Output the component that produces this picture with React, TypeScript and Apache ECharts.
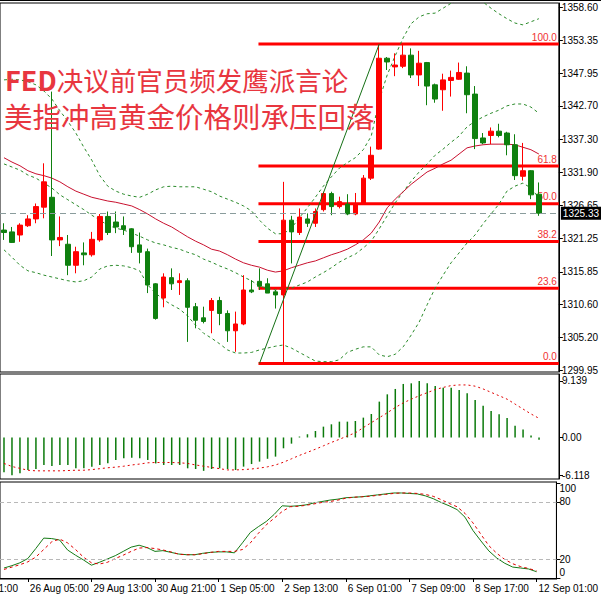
import React, { useEffect, useRef } from 'react';
import * as echarts from 'echarts';

const titleLead = 'FED';
const titleLines = ['决议前官员频发鹰派言论', '美指冲高黄金价格则承压回落'];
const tickLabels = ['26 Aug 05:00', '29 Aug 13:00', '30 Aug 21:00', '1 Sep 05:00', '2 Sep 13:00', '6 Sep 01:00', '7 Sep 09:00', '8 Sep 17:00', '12 Sep 01:00'];
const leadLabel = '24 Aug 21:00';
const slotCount = 70;
const firstTickIdx = 3;
const tickStep = 8;

// [open, close, low, high]
const candles = [
  [1322.6, 1322.2, 1321.0, 1323.7], [1322.3, 1320.6, 1320.5, 1323.1], [1321.8, 1323.4, 1320.7, 1323.7], [1323.3, 1324.4, 1323.1, 1325.0],
  [1324.4, 1326.4, 1323.7, 1326.9], [1326.3, 1330.4, 1324.5, 1333.4], [1327.9, 1321.0, 1318.4, 1345.0], [1321.0, 1321.4, 1320.0, 1324.8],
  [1320.3, 1316.9, 1315.3, 1321.8], [1316.9, 1319.1, 1315.6, 1319.9], [1318.9, 1318.6, 1316.9, 1320.6], [1318.6, 1321.1, 1318.3, 1322.3],
  [1321.0, 1324.8, 1320.7, 1325.2], [1324.8, 1322.2, 1321.8, 1325.6], [1323.9, 1323.1, 1322.1, 1325.6], [1323.3, 1322.7, 1321.8, 1324.8],
  [1322.8, 1319.9, 1318.9, 1322.9], [1320.2, 1319.0, 1317.2, 1322.2], [1319.1, 1313.7, 1312.4, 1319.6], [1313.9, 1308.3, 1308.1, 1314.0],
  [1311.6, 1315.0, 1310.1, 1315.6], [1314.9, 1313.9, 1312.9, 1316.4], [1314.1, 1314.4, 1312.1, 1315.6], [1314.4, 1310.1, 1304.5, 1314.8],
  [1310.2, 1308.0, 1306.7, 1310.8], [1308.4, 1307.8, 1307.5, 1310.2], [1309.6, 1311.2, 1305.9, 1311.6], [1311.2, 1309.1, 1307.2, 1311.8],
  [1309.1, 1306.3, 1304.5, 1309.6], [1306.3, 1307.4, 1302.9, 1309.4], [1307.4, 1312.9, 1307.2, 1315.3], [1312.9, 1312.6, 1312.4, 1314.5],
  [1314.3, 1313.5, 1312.9, 1316.4], [1313.9, 1312.4, 1312.4, 1314.8], [1312.6, 1312.1, 1309.9, 1312.9], [1312.1, 1324.2, 1301.0, 1330.4],
  [1324.2, 1322.3, 1317.2, 1324.9], [1322.2, 1324.7, 1321.8, 1326.1], [1324.4, 1323.7, 1323.1, 1325.3], [1323.7, 1325.6, 1323.1, 1326.1],
  [1325.9, 1328.5, 1325.6, 1328.8], [1328.5, 1326.4, 1325.0, 1328.8], [1326.4, 1327.2, 1326.1, 1328.0], [1326.8, 1325.2, 1325.0, 1328.4],
  [1325.2, 1326.8, 1325.0, 1328.6], [1326.8, 1331.0, 1326.7, 1331.5], [1331.0, 1334.7, 1330.7, 1336.1], [1335.7, 1350.4, 1335.6, 1352.7],
  [1350.4, 1349.8, 1348.5, 1350.6], [1349.0, 1349.3, 1347.5, 1351.2], [1349.1, 1350.9, 1348.8, 1352.8], [1350.9, 1347.7, 1347.2, 1352.0],
  [1347.7, 1349.6, 1345.9, 1351.6], [1349.7, 1345.9, 1342.8, 1349.8], [1346.1, 1343.8, 1343.2, 1346.3], [1345.3, 1346.9, 1341.9, 1347.9],
  [1346.8, 1347.3, 1344.2, 1348.4], [1347.0, 1348.1, 1346.9, 1349.7], [1348.0, 1344.5, 1341.5, 1349.1], [1344.6, 1337.4, 1335.7, 1345.9],
  [1337.5, 1336.7, 1336.5, 1338.3], [1337.9, 1338.6, 1336.5, 1339.2], [1338.6, 1337.9, 1337.6, 1339.8], [1338.3, 1336.4, 1334.7, 1338.5],
  [1336.4, 1331.4, 1330.7, 1338.1], [1331.3, 1332.2, 1330.6, 1336.7], [1332.2, 1328.3, 1327.6, 1332.3], [1328.4, 1325.33, 1324.9, 1330.3],
];

const bbUpper = [
  1346.9, 1347.0, 1346.9, 1346.6, 1346.1, 1345.1, 1343.8, 1341.9, 1340.2, 1338.3,
  1336.0, 1333.9, 1331.4, 1329.7, 1328.9, 1328.4, 1328.1, 1327.9, 1328.4, 1329.1,
  1329.6, 1329.7, 1329.6, 1329.6, 1329.6, 1329.2, 1328.8, 1328.1, 1327.6, 1327.1,
  1326.5, 1325.7, 1324.2, 1322.9, 1322.0, 1322.0, 1322.9, 1324.6, 1326.2, 1327.9,
  1329.7, 1331.2, 1332.6, 1333.5, 1334.3, 1335.6, 1337.8, 1343.6, 1347.7, 1350.8,
  1353.7, 1356.0, 1357.1, 1357.6, 1357.7, 1358.5, 1359.3, 1360.1, 1360.8, 1360.6,
  1359.5, 1358.5, 1357.6, 1356.8, 1356.1, 1355.8, 1356.3, 1356.8,
];
const bbMiddle = [
  1333.3, 1332.8, 1332.3, 1331.5, 1331.0, 1330.2, 1329.4, 1328.3, 1327.5, 1326.7,
  1325.9, 1325.0, 1324.2, 1323.4, 1322.9, 1322.6, 1322.1, 1321.6, 1321.0, 1320.5,
  1320.2, 1319.8, 1319.5, 1319.0, 1318.6, 1317.9, 1317.4, 1316.8, 1316.3, 1315.7,
  1315.0, 1314.4, 1313.5, 1313.2, 1312.9, 1313.1, 1313.2, 1313.7, 1314.2, 1315.0,
  1315.7, 1316.5, 1317.4, 1318.1, 1318.7, 1319.7, 1320.8, 1322.8, 1324.9, 1327.0,
  1328.8, 1330.5, 1332.0, 1333.3, 1334.7, 1335.7, 1336.8, 1337.8, 1339.3, 1340.2,
  1340.9, 1341.5, 1342.0, 1342.7, 1343.0, 1343.0, 1342.5, 1341.5,
];
const bbLower = [
  1319.4, 1318.2, 1316.9, 1316.0, 1315.7, 1315.3, 1315.0, 1314.7, 1314.4, 1314.2,
  1314.4, 1315.0, 1316.3, 1316.8, 1316.9, 1316.8, 1316.5, 1316.0, 1313.7, 1312.4,
  1311.3, 1310.5, 1309.8, 1308.7, 1307.2, 1305.9, 1305.1, 1304.2, 1303.2, 1302.7,
  1302.7, 1302.8, 1303.2, 1303.5, 1303.8, 1304.0, 1303.5, 1302.8, 1302.1, 1301.4,
  1301.3, 1301.3, 1301.6, 1302.8, 1303.3, 1303.7, 1303.7, 1302.4, 1302.1, 1302.5,
  1303.7, 1305.6, 1307.7, 1310.5, 1313.2, 1315.3, 1317.3, 1318.9, 1320.5, 1321.8,
  1323.6, 1325.2, 1326.8, 1328.9, 1329.7, 1330.2, 1329.4, 1327.8,
];
const maRed = [
  1334.3, 1333.6, 1333.0, 1332.2, 1331.7, 1331.4, 1331.0, 1330.4, 1329.6, 1328.9,
  1328.4, 1327.9, 1327.6, 1327.3, 1327.1, 1326.8, 1326.5, 1325.9, 1325.2, 1324.4,
  1323.7, 1323.1, 1322.3, 1321.5, 1320.8, 1320.2, 1319.5, 1319.2, 1318.6, 1317.9,
  1317.3, 1316.9, 1316.6, 1316.1, 1315.8, 1316.0, 1316.5, 1316.9, 1317.3, 1317.6,
  1318.1, 1318.6, 1319.0, 1319.5, 1320.2, 1321.0, 1322.1, 1323.9, 1326.2, 1327.6,
  1328.8, 1330.0, 1331.0, 1332.0, 1332.6, 1333.3, 1333.9, 1334.9, 1335.9, 1336.2,
  1336.4, 1336.5, 1336.5, 1336.5, 1336.4, 1336.0, 1335.6, 1334.9,
];

const macdHist = [
  -5.64, -6.118, -5.8, -5.26, -5.1, -4.45, -4.6, -4.45, -4.45, -4.99,
  -4.99, -4.72, -4.45, -4.18, -3.64, -3.37, -3.3, -3.37, -3.64, -4.2,
  -4.45, -4.45, -4.45, -4.99, -5.1, -5.4, -5.1, -4.99, -5.1, -5.26,
  -4.72, -4.3, -3.91, -3.45, -3.1, -1.75, -1.0, 0.15, 0.52, 1.05,
  1.75, 2.13, 2.56, 2.56, 2.67, 3.21, 3.8, 5.8, 6.98, 7.85,
  8.66, 8.76, 9.139, 8.76, 8.33, 8.06, 8.06, 7.69, 7.15, 6.07,
  5.15, 4.29, 3.75, 3.15, 1.9, 1.3, 0.3, -0.35,
];
const macdSignal = [
  -4.2, -4.7, -5.0, -5.3, -5.4, -5.4, -5.4, -5.4, -5.35, -5.3,
  -5.3, -5.2, -5.05, -4.9, -4.8, -4.65, -4.45, -4.3, -4.1, -4.05,
  -4.05, -4.05, -4.1, -4.2, -4.45, -4.65, -4.85, -5.05, -5.25, -5.25,
  -5.2, -5.1, -4.95, -4.75, -4.45, -4.0, -3.45, -2.9, -2.4, -1.9,
  -1.35, -0.8, -0.3, 0.25, 0.75, 1.6, 2.4, 3.2, 4.0, 4.85,
  5.6, 6.2, 6.75, 7.25, 7.75, 8.1, 8.4, 8.5, 8.5, 8.3,
  7.85, 7.3, 6.75, 6.2, 5.4, 4.6, 3.8, 3.1,
];
const stochMain = [
  10.5, 13, 16, 20.5, 31, 42, 41.5, 40, 29.5, 24,
  19, 13.5, 16.5, 20, 23.5, 28, 32.5, 34.5, 32, 28,
  28.8, 27, 25.2, 24.5, 24.5, 26, 27, 27.5, 27.5, 26.5,
  37, 48, 54, 59.5, 67, 76, 75.5, 76, 77, 79,
  80.5, 82, 83, 84.5, 85, 85.5, 86.5, 87.5, 88.5, 89.5,
  89.5, 89, 88.5, 86.5, 83.5, 79.5, 76, 72, 64, 50,
  39, 28.5, 21, 15.5, 11.5, 10.5, 9.5, 6.6,
];
const stochSignal = [
  9, 11.5, 14, 17, 22, 30, 38, 41, 37, 30,
  22, 16, 14.7, 16.5, 20.5, 24, 28, 31.5, 32, 31,
  29.5, 27.5, 25, 24.5, 24.5, 25.5, 27, 28, 28, 28,
  30, 37, 47, 56, 63, 70, 75, 75.5, 76.5, 78,
  79.5, 80.5, 82, 84, 85, 85.5, 86, 87, 88, 89,
  89.5, 89.5, 89, 88, 86, 82.5, 78.5, 75, 68, 58,
  46, 34, 26, 19.5, 15, 12, 10, 7.5,
];

const priceTicks = [1358.6, 1353.35, 1347.95, 1342.7, 1337.3, 1331.9, 1326.65, 1321.25, 1315.85, 1310.6, 1305.2, 1299.95];
const macdTicks = [9.139, 0, -6.118];
const stochTicks = [100, 80, 20, 0];
const stochLevels = [80, 20];
const fibLevels = [0, 23.6, 38.2, 50, 61.8, 100];
const fibLow = 1301.0;
const fibHigh = 1352.7;
const fibStartIdx = 32;
const fibEndIdx = 47;
const lastClose = 1325.33;

const FONT = 'Liberation Sans';
const CJK = 'Noto Sans CJK SC';
const RED = '#ff0000';
const GREEN = '#0f800f';
const TITLE_RED = '#e8363f';

export default function App() {
  const ref = useRef<HTMLDivElement>(null);
  useEffect(() => {
    document.body.style.margin = '0';
    document.body.style.overflow = 'hidden';
    if (!ref.current) return;
    const chart = echarts.init(ref.current, undefined, { renderer: 'svg' });
    const categories = Array.from({ length: slotCount }, (_, i) => String(i));
    const isTick = (idx: number) => idx >= firstTickIdx && (idx - firstTickIdx) % tickStep === 0 && (idx - firstTickIdx) / tickStep < tickLabels.length;
    const gridBase = { left: -1, right: 42, show: true, borderColor: '#000', borderWidth: 1, containLabel: false };
    const hiddenX = (g: number) => ({
      type: 'category', gridIndex: g, data: categories, boundaryGap: true,
      axisLine: { show: false }, axisTick: { show: false }, axisLabel: { show: false }, splitLine: { show: false },
    });
    const yBase = (g: number, min: number, max: number, ticks: number[], fmt: any, rich?: any) => ({
      type: 'value', gridIndex: g, position: 'right', min, max,
      axisLine: { show: true, lineStyle: { color: '#000', width: 1 } },
      axisTick: { show: true, length: 4, customValues: ticks, lineStyle: { color: '#000' } },
      axisLabel: { customValues: ticks, formatter: fmt, margin: 3, fontSize: 10, fontFamily: FONT, color: '#000', rich },
      splitLine: { show: false },
    });
    const dotted = (color: string, dash: number[]) => ({ color, width: 1, type: dash });
    const lineSeries = (data: number[], xi: number, lineStyle: any, extra: any = {}) => ({
      type: 'line', xAxisIndex: xi, yAxisIndex: xi, data, showSymbol: false, symbol: 'none',
      lineStyle, silent: true, ...extra,
    });
    const richLbl = { fontSize: 10, fontFamily: FONT, color: '#000' };

    chart.setOption({
      animation: false,
      backgroundColor: '#fff',
      grid: [
        { ...gridBase, top: 3, height: 369 },
        { ...gridBase, top: 374, height: 105 },
        { ...gridBase, top: 482, height: 97 },
      ],
      xAxis: [
        hiddenX(0),
        hiddenX(1),
        {
          type: 'category', gridIndex: 2, data: categories, boundaryGap: true,
          axisLine: { show: true, lineStyle: { color: '#000' } },
          axisTick: { show: true, alignWithLabel: true, length: 4, interval: (i: number) => isTick(i), lineStyle: { color: '#000' } },
          axisLabel: {
            interval: (i: number) => isTick(i), align: 'left', margin: 4, padding: [0, 0, 0, 2],
            fontSize: 10, fontFamily: FONT, color: '#000',
            formatter: (_v: string, i: number) => (isTick(i) ? tickLabels[(i - firstTickIdx) / tickStep] : ''),
          },
          splitLine: { show: false },
        },
      ],
      yAxis: [
        yBase(0, 1299.63, 1359.34, priceTicks, (v: number) => v.toFixed(2)),
        yBase(1, -6.72, 10.27, macdTicks, (v: number) => (v === 0 ? '0.00' : v.toFixed(3))),
        yBase(2, -1.05, 101.05, stochTicks, (v: number) => (v === 100 ? '{t|100}' : v === 0 ? '{b|0}' : String(v)), {
          t: { ...richLbl, padding: [12, 0, 0, 0] },
          b: { ...richLbl, padding: [0, 0, 12, 0] },
        }),
      ],
      series: [
        lineSeries(bbUpper, 0, dotted('#2a8a2a', [3, 3])),
        lineSeries(bbMiddle, 0, dotted('#2a8a2a', [3, 3])),
        lineSeries(bbLower, 0, dotted('#2a8a2a', [3, 3])),
        lineSeries(maRed, 0, { color: '#c8102e', width: 1 }),
        {
          type: 'custom', xAxisIndex: 0, yAxisIndex: 0, silent: true, z: 3,
          data: fibLevels.map((l) => [fibStartIdx, fibLow + ((fibHigh - fibLow) * l) / 100, l]),
          renderItem: (params: any, api: any) => {
            const p = api.coord([api.value(0), api.value(1)]);
            const cs = params.coordSys;
            const xr = cs.x + cs.width;
            return {
              type: 'group',
              children: [
                { type: 'line', shape: { x1: p[0] - 1, y1: p[1], x2: xr, y2: p[1] }, style: { stroke: RED, lineWidth: 3 } },
                {
                  type: 'text', x: xr - 2, y: p[1] - 2,
                  style: { text: Number(api.value(2)).toFixed(1), fill: '#f03030', align: 'right', verticalAlign: 'bottom', fontSize: 10, fontFamily: FONT },
                },
              ],
            };
          },
        },
        {
          type: 'candlestick', xAxisIndex: 0, yAxisIndex: 0, data: candles, barWidth: 5, z: 4,
          itemStyle: { color: RED, color0: GREEN, borderColor: RED, borderColor0: GREEN, borderWidth: 1 },
          markLine: {
            silent: true, symbol: ['none', 'none'], animation: false,
            data: [
              {
                yAxis: lastClose,
                lineStyle: { color: '#8a9c9c', type: [6, 4], width: 1 },
                label: {
                  show: true, position: 'end', formatter: lastClose.toFixed(2), distance: 2,
                  backgroundColor: '#000', color: '#fff', padding: [2, 2, 1, 2], fontSize: 10, fontFamily: FONT,
                },
              },
              [
                { coord: [fibStartIdx, fibLow], lineStyle: { color: '#157015', width: 1, type: 'solid' }, label: { show: false } },
                { coord: [fibEndIdx, fibHigh] },
              ],
            ],
          },
        },
        {
          type: 'bar', xAxisIndex: 1, yAxisIndex: 1, data: macdHist, barWidth: 1.5,
          itemStyle: { color: '#0b7a0b' }, silent: true,
        },
        lineSeries(macdSignal, 1, dotted('#e00000', [2, 3])),
        lineSeries(stochMain, 2, { color: '#157a15', width: 1 }, {
          markLine: {
            silent: true, symbol: ['none', 'none'], label: { show: false },
            lineStyle: { color: '#b8b8b8', type: [4, 3], width: 1 },
            data: stochLevels.map((v) => ({ yAxis: v })),
          },
        }),
        lineSeries(stochSignal, 2, dotted('#e00000', [3, 3])),
      ],
      graphic: [
        { type: 'line', shape: { x1: 0, y1: 0.5, x2: 601, y2: 0.5 }, style: { stroke: '#000', lineWidth: 1 }, silent: true },
        {
          type: 'text', x: 5, y: 79, z: 100, silent: true,
          style: {
            text: '{b|' + titleLead + '}{r|' + titleLines[0] + '}',
            verticalAlign: 'middle',
            rich: {
              b: { fill: TITLE_RED, fontSize: 27, fontFamily: CJK, fontWeight: 'bold', lineHeight: 27 },
              r: { fill: TITLE_RED, fontSize: 26.5, fontFamily: CJK, lineHeight: 27 },
            },
          },
        },
        {
          type: 'text', x: 4, y: 115, z: 100, silent: true,
          style: { text: titleLines[1], fill: TITLE_RED, fontSize: 28.5, lineHeight: 29, fontFamily: CJK, verticalAlign: 'middle' },
        },
        {
          type: 'text', x: 18, y: 583, silent: true,
          style: { text: leadLabel, fill: '#000', fontSize: 10, fontFamily: FONT, align: 'right', verticalAlign: 'top' },
        },
      ],
    });
    return () => chart.dispose();
  }, []);
  return <div ref={ref} style={{ width: 601, height: 596 }} />;
}
